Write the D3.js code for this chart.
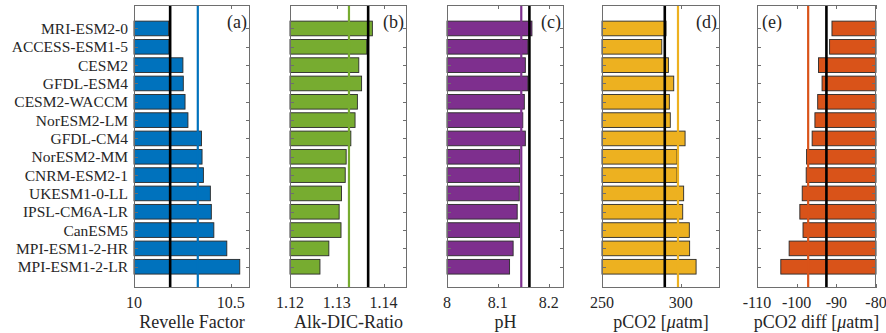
<!DOCTYPE html>
<html>
<head>
<meta charset="utf-8">
<script src="https://cdn.jsdelivr.net/npm/d3@7"></script>
<style>
  html, body { margin: 0; padding: 0; background: #fff; }
  svg { display: block; }
  text { font-family: "Liberation Serif", "Times New Roman", serif; fill: #262626; }
</style>
</head>
<body>
<svg id="chart" width="886" height="333"></svg>
<script>
// ---------------- DATA ----------------
const models = ["MRI-ESM2-0","ACCESS-ESM1-5","CESM2","GFDL-ESM4","CESM2-WACCM","NorESM2-LM",
  "GFDL-CM4","NorESM2-MM","CNRM-ESM2-1","UKESM1-0-LL","IPSL-CM6A-LR","CanESM5",
  "MPI-ESM1-2-HR","MPI-ESM1-2-LR"];

const revelle   = [10.179,10.181,10.253,10.255,10.264,10.279,10.349,10.352,10.359,10.395,10.400,10.413,10.480,10.547];
const alkDic    = [1.1376,1.1364,1.1347,1.1353,1.1344,1.1339,1.1330,1.1320,1.1318,1.1310,1.1305,1.1309,1.1283,1.1264];
const ph        = [8.167,8.159,8.154,8.159,8.152,8.149,8.154,8.143,8.143,8.142,8.138,8.143,8.130,8.123];
const pco2      = [290.7,288.0,292.2,295.6,292.8,293.4,302.8,297.7,297.7,301.9,301.3,305.5,305.7,309.8];
const pco2Diff  = [-91.1,-91.7,-94.5,-93.6,-94.7,-95.4,-96.1,-97.5,-97.6,-98.6,-99.2,-98.4,-101.9,-104.0];

// reference lines: black = observation, coloured = model mean
const obsLines  = [10.187, 1.1367, 8.162, 289.9, -92.5];
const meanLines = [10.330, 1.1326, 8.146, 298.3, -97.1];

const panelLetters = ["(a)","(b)","(c)","(d)","(e)"];
// axis labels as [before-mu, mu, after-mu] pieces
const axisLabels   = [["Revelle Factor","",""],["Alk-DIC-Ratio","",""],["pH","",""],
                      ["pCO2 [","\u03bc","atm]"],["pCO2 diff [","\u03bc","atm]"]];
const xDomains     = [[10,10.6],[1.12,1.145],[8,8.23],[250,325],[-110,-80]];
const xTickValues  = [[10,10.5],[1.12,1.13,1.14],[8,8.1,8.2],[250,300],[-110,-100,-90,-80]];
const xTickLabels  = [["10","10.5"],["1.12","1.13","1.14"],["8","8.1","8.2"],["250","300"],["-110","-100","-90","-80"]];
const colors       = ["#0072BD","#77AC30","#7E2F8E","#EDB120","#D95319"];
const seriesList   = [revelle, alkDic, ph, pco2, pco2Diff];

// ---------------- LAYOUT ----------------
const svg = d3.select("#chart");
const plotTop = 5, plotBottom = 288;
const panelX = [[134,250],[290,407],[447,564],[602,720],[757,876]];
const y = d3.scaleLinear().domain([-0.28, 15.16]).range([plotTop, plotBottom]);
const barH = y(0.8) - y(0);
const tickLen = 4;

seriesList.forEach((vals, p) => {
  const [x0, x1] = panelX[p];
  const x = d3.scaleLinear().domain(xDomains[p]).range([x0, x1]);
  const g = svg.append("g");
  const reversed = p === 4; // bars grow from the right edge

  // bars
  g.selectAll("rect.bar").data(vals).enter().append("rect")
    .attr("class","bar")
    .attr("x", d => reversed ? x(d) : x(xDomains[p][0]))
    .attr("width", d => reversed ? x(xDomains[p][1]) - x(d) : x(d) - x(xDomains[p][0]))
    .attr("y", (d,i) => y(i+1) - barH/2)
    .attr("height", barH)
    .attr("fill", colors[p])
    .attr("stroke", "#2a2a2a")
    .attr("stroke-width", 0.9);

  // reference lines
  g.append("line")
    .attr("x1", x(meanLines[p])).attr("x2", x(meanLines[p]))
    .attr("y1", plotTop).attr("y2", plotBottom)
    .attr("stroke", colors[p]).attr("stroke-width", 2.2);
  g.append("line")
    .attr("x1", x(obsLines[p])).attr("x2", x(obsLines[p]))
    .attr("y1", plotTop).attr("y2", plotBottom)
    .attr("stroke", "#000").attr("stroke-width", 2.6);

  // frame
  g.append("rect")
    .attr("x", x0 + 0.5).attr("y", plotTop + 0.5)
    .attr("width", x1 - x0 - 1).attr("height", plotBottom - plotTop - 1)
    .attr("fill", "none").attr("stroke", "#6e6e6e").attr("stroke-width", 1);

  // x ticks (bottom + top, inward)
  const xt = g.append("g").attr("stroke", "#6e6e6e").attr("stroke-width", 1);
  xTickValues[p].forEach(v => {
    const px = Math.round(x(v)) + 0.5;
    xt.append("line").attr("x1", px).attr("x2", px).attr("y1", plotBottom).attr("y2", plotBottom - tickLen);
    xt.append("line").attr("x1", px).attr("x2", px).attr("y1", plotTop).attr("y2", plotTop + tickLen);
  });
  // y ticks (left + right, inward)
  models.forEach((m, i) => {
    const py = Math.round(y(i+1)) + 0.5;
    xt.append("line").attr("x1", x0).attr("x2", x0 + tickLen).attr("y1", py).attr("y2", py);
    xt.append("line").attr("x1", x1).attr("x2", x1 - tickLen).attr("y1", py).attr("y2", py);
  });

  // x tick labels
  g.selectAll("text.xt").data(xTickValues[p]).enter().append("text")
    .attr("class","xt")
    .attr("x", d => x(d)).attr("y", 308)
    .attr("text-anchor","middle")
    .style("font-size","16px")
    .text((d,i) => xTickLabels[p][i]);

  // axis label
  const al = g.append("text")
    .attr("x", (x0 + x1)/2).attr("y", 328)
    .attr("text-anchor","middle")
    .style("font-size","18px");
  al.append("tspan").text(axisLabels[p][0]);
  if (axisLabels[p][1]) {
    al.append("tspan").style("font-style","italic").text(axisLabels[p][1]);
    al.append("tspan").text(axisLabels[p][2]);
  }

  // panel letter
  g.append("text")
    .attr("x", reversed ? x0 + 5 : x1 - 3)
    .attr("y", 28)
    .attr("text-anchor", reversed ? "start" : "end")
    .style("font-size","18px")
    .text(panelLetters[p]);

  // category labels on first panel
  if (p === 0) {
    g.selectAll("text.cat").data(models).enter().append("text")
      .attr("class","cat")
      .attr("x", x0 - 6)
      .attr("y", (d,i) => y(i+1))
      .attr("dy","0.35em")
      .attr("text-anchor","end")
      .style("font-size","15.5px")
      .text(d => d);
  }
});
</script>
</body>
</html>
